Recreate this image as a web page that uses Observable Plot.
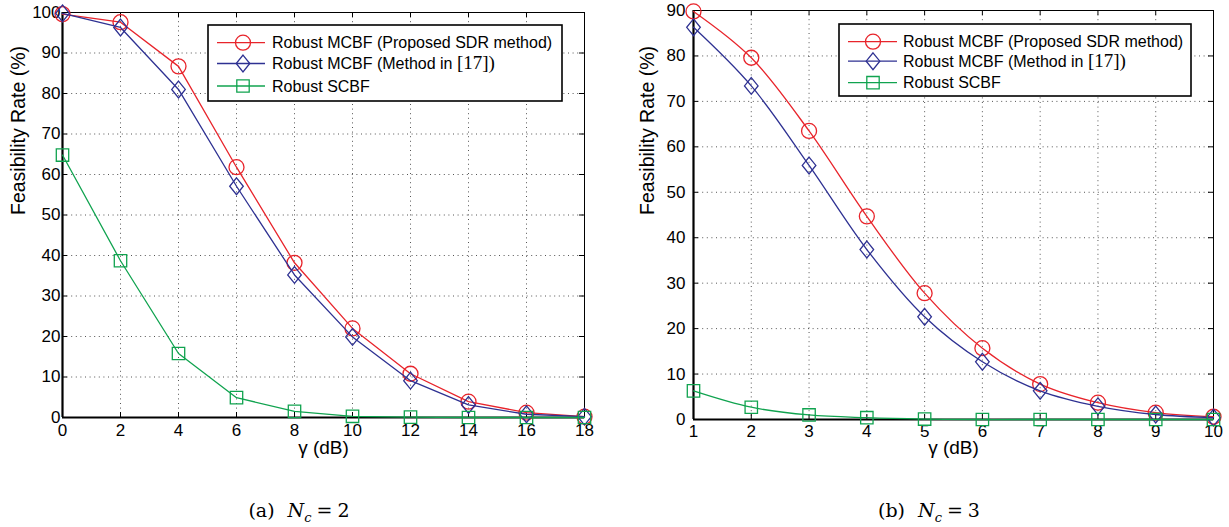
<!DOCTYPE html>
<html><head><meta charset="utf-8">
<script src="https://cdn.jsdelivr.net/npm/d3@7"></script>
<script src="https://cdn.jsdelivr.net/npm/@observablehq/plot@0.6"></script>
<style>
body{margin:0;background:#fff;}
#wrap{position:relative;width:1229px;height:527px;overflow:hidden;background:#fff;font-family:"Liberation Sans",Arial,sans-serif;}
.panel{position:absolute;top:0;}
.legend{position:absolute;}
.caption{position:absolute;font-family:"DejaVu Serif","Liberation Serif",serif;font-size:19px;transform:translate(-50%,-50%);white-space:nowrap;}
.caption sub{font-size:13px;}
.caption .g1{margin-left:13px;}
.caption .eq{margin:0 5px;}
</style>
</head><body>
<div id="wrap"></div>
<script>
// ---- data ----
const seriesNames = ["Robust MCBF (Proposed SDR method)", "Robust MCBF (Method in ", "Robust SCBF"];
const gammaA = [0, 2, 4, 6, 8, 10, 12, 14, 16, 18];
const sdrA   = [99.6, 97.6, 86.7, 61.8, 38.2, 22.0, 10.8, 3.9, 1.2, 0.2];
const m17A   = [99.8, 96.3, 81.0, 57.1, 35.2, 19.9, 9.1, 3.1, 0.8, 0.2];
const scbfA  = [64.8, 38.7, 15.8, 4.9, 1.5, 0.3, 0.1, 0.0, 0.0, 0.0];
const xTicksA = [0, 2, 4, 6, 8, 10, 12, 14, 16, 18];
const yTicksA = [0, 10, 20, 30, 40, 50, 60, 70, 80, 90, 100];

const gammaB = [1, 2, 3, 4, 5, 6, 7, 8, 9, 10];
const sdrB   = [89.8, 79.6, 63.5, 44.7, 27.8, 15.7, 7.8, 3.7, 1.5, 0.6];
const m17B   = [86.3, 73.4, 55.9, 37.4, 22.6, 12.7, 6.3, 2.9, 1.1, 0.4];
const scbfB  = [6.3, 2.7, 1.0, 0.4, 0.1, 0.0, 0.0, 0.0, 0.0, 0.0];
const xTicksB = [1, 2, 3, 4, 5, 6, 7, 8, 9, 10];
const yTicksB = [0, 10, 20, 30, 40, 50, 60, 70, 80, 90];

const colors = ["#e8242b", "#2e3192", "#10a34f"];

// ---- symbols ----
const circleSym = {draw(ctx){ const r = 7.5; ctx.moveTo(r, 0); ctx.arc(0, 0, r, 0, 2 * Math.PI); ctx.closePath(); }};
const diamondSym = {draw(ctx){ const w = 6.8, h = 8.4; ctx.moveTo(0, -h); ctx.lineTo(w, 0); ctx.lineTo(0, h); ctx.lineTo(-w, 0); ctx.closePath(); }};
const squareSym = {draw(ctx){ const s = 6.2; ctx.moveTo(-s, -s); ctx.lineTo(s, -s); ctx.lineTo(s, s); ctx.lineTo(-s, s); ctx.closePath(); }};
const symbols = [circleSym, diamondSym, squareSym];

function panel(cfg) {
  const {x, ys, xTicks, yTicks, left, width, height, mL, mR, mT, mB, curves, yPad, xPad, ytdx, xtdy} = cfg;
  const xmin = xTicks[0], xmax = xTicks[xTicks.length - 1];
  const ymin = yTicks[0], ymax = yTicks[yTicks.length - 1];
  const pw = width - mL - mR, ph = height - mT - mB;
  const tkY = 5 * (ymax - ymin) / ph, tkX = 5 * (xmax - xmin) / pw;
  const rows = ys.map(arr => x.map((v, i) => ({x: v, y: arr[i]})));
  const dotted = {stroke: "#000", strokeOpacity: 0.75, strokeWidth: 0.9, strokeDasharray: "1,3.6"};
  const marks = [
    Plot.gridX({ticks: xTicks.slice(1, -1), ...dotted}),
    Plot.gridY({ticks: yTicks.slice(1, -1), ...dotted}),
    Plot.ruleX(xTicks, {x: d => d, y1: ymin, y2: ymin + tkY, stroke: "#000"}),
    Plot.ruleX(xTicks, {x: d => d, y1: ymax - tkY, y2: ymax, stroke: "#000"}),
    Plot.ruleY(yTicks, {y: d => d, x1: xmin, x2: xmin + tkX, stroke: "#000"}),
    Plot.ruleY(yTicks, {y: d => d, x1: xmax - tkX, x2: xmax, stroke: "#000"}),
    Plot.frame({stroke: "#000", strokeWidth: 1}),
    Plot.ruleX([xmin], {stroke: "#000", strokeWidth: 2.2}),
    Plot.ruleY([ymin], {stroke: "#000", strokeWidth: 2.2}),
    Plot.axisX({ticks: xTicks, tickSize: 0, tickPadding: xPad, label: null, fontSize: 17, fill: "#000"}),
    Plot.axisY({ticks: yTicks, tickSize: 0, tickPadding: yPad, label: null, fontSize: 17, fill: "#000"}),
    Plot.text(["γ (dB)"], {text: d => d, frameAnchor: "bottom", dy: xtdy, fontSize: 19, fill: "#000"}),
    Plot.text(["Feasibility Rate (%)"], {text: d => d, frameAnchor: "left", dx: ytdx, rotate: -90, fontSize: 19.5, fill: "#000"})
  ];
  rows.forEach((r, i) => {
    marks.push(Plot.line(r, {x: "x", y: "y", stroke: colors[i], strokeWidth: 1.3, curve: curves[i]}));
    marks.push(Plot.dot(r, {x: "x", y: "y", symbol: symbols[i], r: 7, stroke: colors[i], strokeWidth: 1.3, fill: "none"}));
  });
  const svg = Plot.plot({
    width, height, marginLeft: mL, marginRight: mR, marginTop: mT, marginBottom: mB,
    style: {fontFamily: "Liberation Sans, Arial, sans-serif", fontSize: "17px", background: "transparent", overflow: "visible"},
    x: {domain: [xmin, xmax]},
    y: {domain: [ymin, ymax]},
    marks
  });
  svg.classList.add("panel");
  svg.style.left = left + "px";
  document.getElementById("wrap").appendChild(svg);
}

panel({x: gammaA, ys: [sdrA, m17A, scbfA], xTicks: xTicksA, yTicks: yTicksA, left: 0, width: 612, height: 462,
       mL: 62, mR: 28, mT: 12, mB: 45, curves: ["linear", "linear", "linear"], yPad: 2, xPad: 6, ytdx: -44, xtdy: 36});
panel({x: gammaB, ys: [sdrB, m17B, scbfB], xTicks: xTicksB, yTicks: yTicksB, left: 620, width: 609, height: 462,
       mL: 73, mR: 16, mT: 10, mB: 43, curves: ["catmull-rom", "catmull-rom", "catmull-rom"], yPad: 8, xPad: 5, ytdx: -46, xtdy: 34});

// ---- legends ----
function legend(left, top, w, h, rowY, lx1, lx2, mx, tx) {
  const svg = d3.select("#wrap").append("svg").attr("class", "legend")
    .style("left", left + "px").style("top", top + "px")
    .attr("width", w + 2).attr("height", h + 2);
  svg.append("rect").attr("x", 1).attr("y", 1).attr("width", w - 1).attr("height", h - 1)
    .attr("fill", "#fff").attr("stroke", "#000").attr("stroke-width", 1.6);
  seriesNames.forEach((name, i) => {
    const y = rowY[i];
    svg.append("line").attr("x1", lx1).attr("x2", lx2).attr("y1", y).attr("y2", y)
      .attr("stroke", colors[i]).attr("stroke-width", 1.3);
    svg.append("path").attr("d", d3.symbol(symbols[i])()).attr("transform", `translate(${mx},${y})`)
      .attr("fill", "none").attr("stroke", colors[i]).attr("stroke-width", 1.3);
    const t = svg.append("text").attr("x", tx).attr("y", y).attr("dy", "0.36em")
      .attr("font-family", "Liberation Sans, Arial, sans-serif").attr("font-size", 16).attr("fill", "#000");
    t.append("tspan").text(name);
    if (i === 1) t.append("tspan").attr("font-family", "Liberation Serif, DejaVu Serif, serif").attr("font-size", 19).text("[17])");
  });
}
legend(207, 24, 355, 77, [18.7, 39.5, 62], 10, 58, 36, 65);
legend(838, 23, 353, 73, [18.7, 38.2, 59.7], 10, 59, 35, 65);

// ---- captions ----
const capA = document.createElement("div");
capA.className = "caption"; capA.style.left = "299px"; capA.style.top = "512px";
capA.innerHTML = "(a)<span class='g1'><i>N</i><sub><i>c</i></sub></span><span class='eq'>=</span>2";
const capB = document.createElement("div");
capB.className = "caption"; capB.style.left = "929px"; capB.style.top = "512px";
capB.innerHTML = "(b)<span class='g1'><i>N</i><sub><i>c</i></sub></span><span class='eq'>=</span>3";
document.getElementById("wrap").append(capA, capB);
</script>
</body></html>
